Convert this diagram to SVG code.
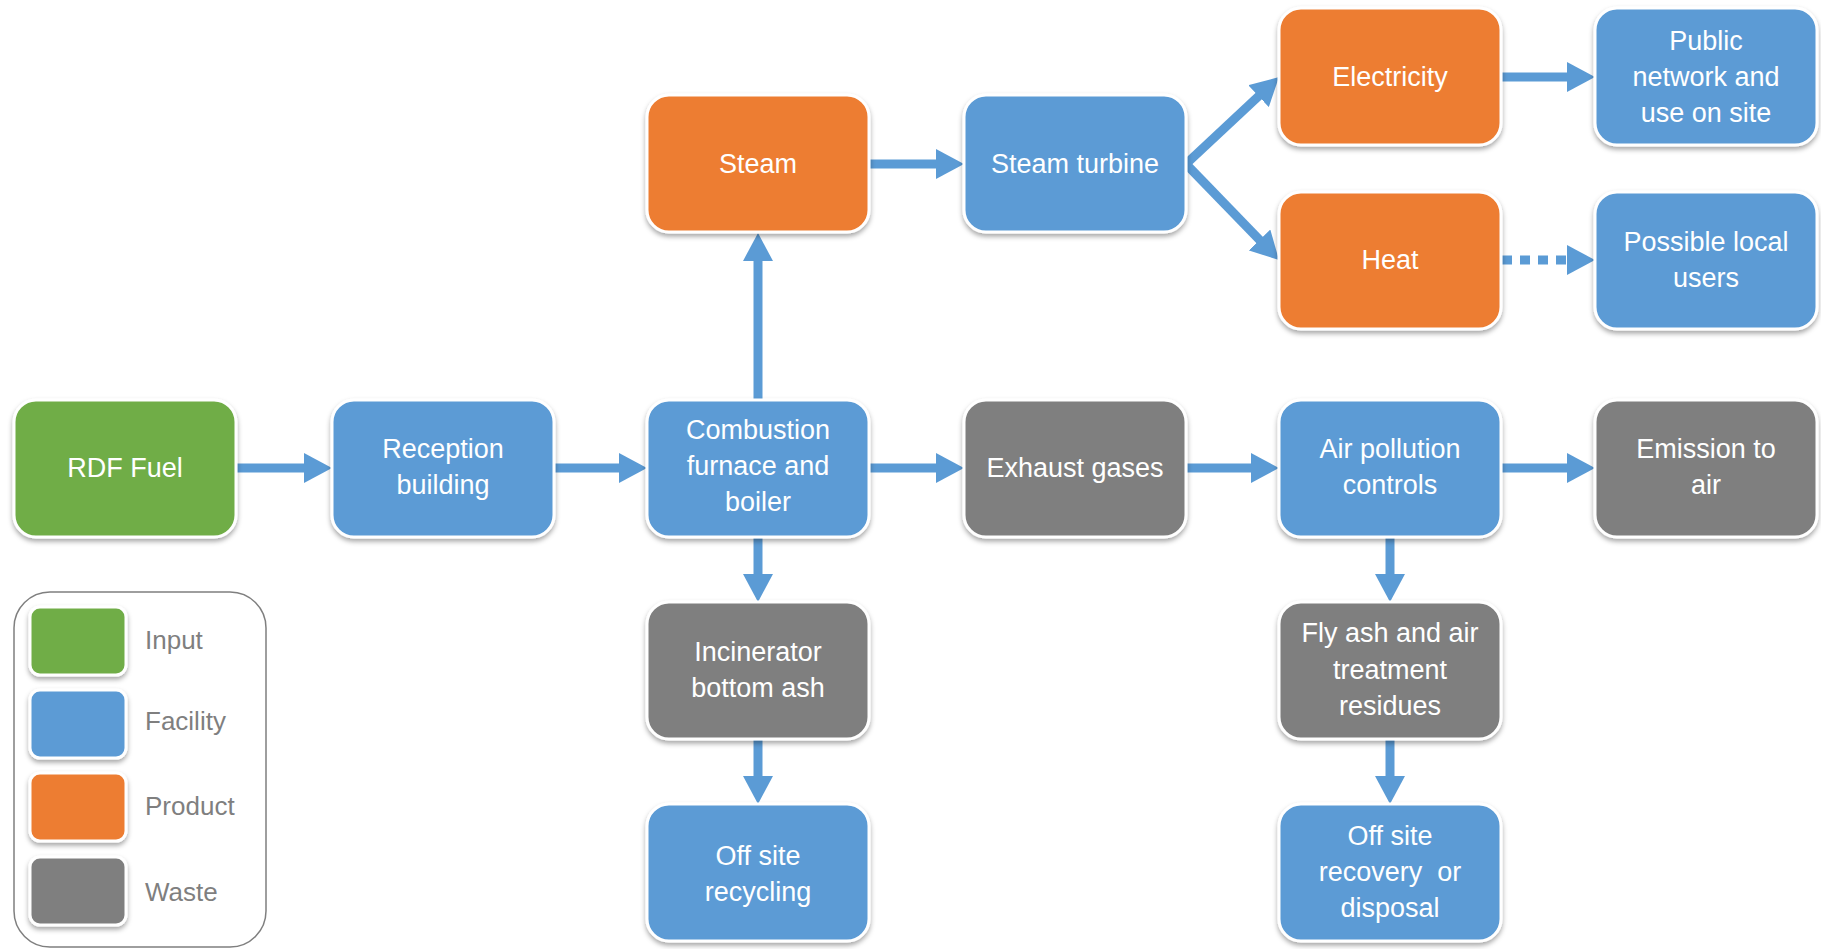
<svg xmlns="http://www.w3.org/2000/svg" width="1821" height="949" viewBox="0 0 1821 949">
<style>
.box{stroke:#fff;stroke-width:3;filter:url(#sh)}
.in{fill:#70AD47}.fa{fill:#5B9BD5}.pr{fill:#ED7D31}.wa{fill:#7F7F7F}
.t{font-family:"Liberation Sans",Arial,sans-serif;font-size:27px;fill:#fff;text-anchor:middle}
.lg{font-family:"Liberation Sans",Arial,sans-serif;font-size:26px;fill:#7F7F7F}
.c{stroke:#5B9BD5;stroke-width:9;fill:none;marker-end:url(#ah)}
</style>
<defs>
<filter id="sh" x="-10%" y="-10%" width="120%" height="130%">
<feDropShadow dx="0" dy="3" stdDeviation="2.5" flood-color="#000" flood-opacity="0.35"/>
</filter>
<marker id="ah" markerUnits="userSpaceOnUse" markerWidth="28" markerHeight="30" refX="8" refY="15" orient="auto">
<path d="M0,0 L28,15 L0,30 z" fill="#5B9BD5"/>
</marker>
</defs>
<rect width="1821" height="949" fill="#fff"/>

<g id="legend">
<rect x="14" y="592" width="252" height="355" rx="36" fill="none" stroke="#7F7F7F" stroke-width="1.5"/>
<rect class="box in" x="30" y="607" width="96" height="68" rx="10"/>
<rect class="box fa" x="30" y="690" width="96" height="68" rx="10"/>
<rect class="box pr" x="30" y="773" width="96" height="68" rx="10"/>
<rect class="box wa" x="30" y="857" width="96" height="68" rx="10"/>
<text class="lg" x="145" y="649">Input</text>
<text class="lg" x="145" y="730">Facility</text>
<text class="lg" x="145" y="815">Product</text>
<text class="lg" x="145" y="901">Waste</text>
</g>

<g id="connectors">
<line class="c" x1="237" y1="468" x2="312" y2="468"/>
<line class="c" x1="554" y1="468" x2="627" y2="468"/>
<line class="c" x1="869" y1="468" x2="944" y2="468"/>
<line class="c" x1="1186" y1="468" x2="1259" y2="468"/>
<line class="c" x1="1502" y1="468" x2="1575" y2="468"/>
<line class="c" x1="758" y1="400" x2="758" y2="253"/>
<line class="c" x1="758" y1="537" x2="758" y2="582"/>
<line class="c" x1="758" y1="739" x2="758" y2="784"/>
<line class="c" x1="1390" y1="537" x2="1390" y2="582"/>
<line class="c" x1="1390" y1="739" x2="1390" y2="784"/>
<line class="c" x1="869" y1="164" x2="944" y2="164"/>
<line class="c" x1="1186" y1="164" x2="1264.4" y2="90.7"/>
<line class="c" x1="1186" y1="164" x2="1265.1" y2="245.7"/>
<line class="c" x1="1502" y1="77" x2="1575" y2="77"/>
<line class="c" x1="1502" y1="260" x2="1575" y2="260" stroke-dasharray="10 8"/>
</g>

<g id="rdf"><rect class="box in" x="14" y="400" width="222" height="137" rx="22"/><text class="t" x="125" y="477">RDF Fuel</text></g>
<g id="reception"><rect class="box fa" x="332" y="400" width="222" height="137" rx="22"/><text class="t" x="443" y="458">Reception</text><text class="t" x="443" y="494">building</text></g>
<g id="combustion"><rect class="box fa" x="647" y="400" width="222" height="137" rx="22"/><text class="t" x="758" y="439">Combustion</text><text class="t" x="758" y="475">furnace and</text><text class="t" x="758" y="511">boiler</text></g>
<g id="exhaust"><rect class="box wa" x="964" y="400" width="222" height="137" rx="22"/><text class="t" x="1075" y="477">Exhaust gases</text></g>
<g id="airpollution"><rect class="box fa" x="1279" y="400" width="222" height="137" rx="22"/><text class="t" x="1390" y="458">Air pollution</text><text class="t" x="1390" y="494">controls</text></g>
<g id="emission"><rect class="box wa" x="1595" y="400" width="222" height="137" rx="22"/><text class="t" x="1706" y="458">Emission to</text><text class="t" x="1706" y="494">air</text></g>
<g id="steam"><rect class="box pr" x="647" y="95" width="222" height="137" rx="22"/><text class="t" x="758" y="173">Steam</text></g>
<g id="turbine"><rect class="box fa" x="964" y="95" width="222" height="137" rx="22"/><text class="t" x="1075" y="173">Steam turbine</text></g>
<g id="electricity"><rect class="box pr" x="1279" y="8" width="222" height="137" rx="22"/><text class="t" x="1390" y="86">Electricity</text></g>
<g id="public"><rect class="box fa" x="1595" y="8" width="222" height="137" rx="22"/><text class="t" x="1706" y="50">Public</text><text class="t" x="1706" y="86">network and</text><text class="t" x="1706" y="122">use on site</text></g>
<g id="heat"><rect class="box pr" x="1279" y="192" width="222" height="137" rx="22"/><text class="t" x="1390" y="269">Heat</text></g>
<g id="localusers"><rect class="box fa" x="1595" y="192" width="222" height="137" rx="22"/><text class="t" x="1706" y="251">Possible local</text><text class="t" x="1706" y="287">users</text></g>
<g id="bottomash"><rect class="box wa" x="647" y="602" width="222" height="137" rx="22"/><text class="t" x="758" y="661">Incinerator</text><text class="t" x="758" y="697">bottom ash</text></g>
<g id="recycling"><rect class="box fa" x="647" y="804" width="222" height="137" rx="22"/><text class="t" x="758" y="865">Off site</text><text class="t" x="758" y="901">recycling</text></g>
<g id="flyash"><rect class="box wa" x="1279" y="602" width="222" height="137" rx="22"/><text class="t" x="1390" y="642">Fly ash and air</text><text class="t" x="1390" y="679">treatment</text><text class="t" x="1390" y="715">residues</text></g>
<g id="disposal"><rect class="box fa" x="1279" y="804" width="222" height="137" rx="22"/><text class="t" x="1390" y="845">Off site</text><text class="t" x="1390" y="881" style="white-space:pre">recovery  or</text><text class="t" x="1390" y="917">disposal</text></g>
</svg>
